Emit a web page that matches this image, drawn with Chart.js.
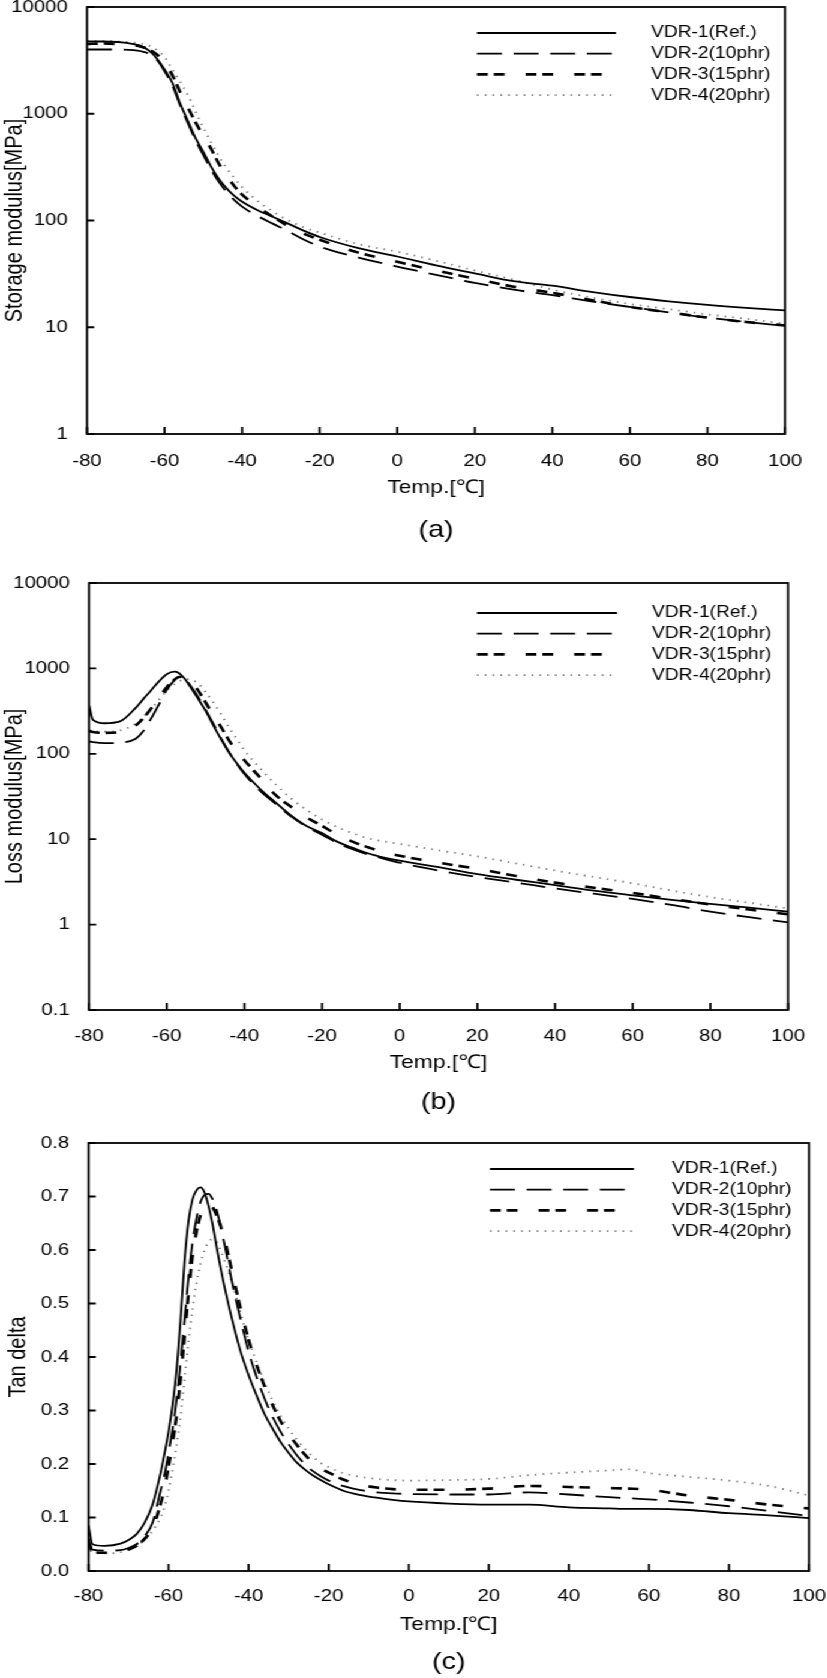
<!DOCTYPE html>
<html>
<head>
<meta charset="utf-8">
<script src="https://cdn.jsdelivr.net/npm/chart.js@4.4.1/dist/chart.umd.min.js"></script>
<style>
html,body{margin:0;padding:0;background:#fff;overflow:hidden;}
/* the reference figure is stretched horizontally, so the whole drawing is too */
#fig{position:relative;width:689px;height:1678px;transform:scaleX(1.2);transform-origin:0 0;}
#fig canvas{position:absolute;left:0;}
</style>
</head>
<body>
<div id="fig">
  <canvas id="cA" width="689" height="550" style="top:0px"></canvas>
  <canvas id="cB" width="689" height="568" style="top:550px"></canvas>
  <canvas id="cC" width="689" height="560" style="top:1118px"></canvas>
</div>
<script>
// ---- data ----
const labels = ['VDR-1(Ref.)','VDR-2(10phr)','VDR-3(15phr)','VDR-4(20phr)'];
const xTicks = [-80,-60,-40,-20,0,20,40,60,80,100];

// (a) storage modulus, MPa
const tempA = [-80,-76,-72,-68,-66,-64,-62,-60,-58,-56,-54,-52,-50,-48,-46,-44,-42,-40,-36,-32,-28,-24,-20,-10,0,10,20,30,40,50,60,70,80,90,100];
const storage1 = [4750,4750,4700,4500,4300,3900,3300,2600,1950,1250,860,590,440,320,245,200,170,150,125,108,93,80,70,55,46,38,32,27,24.5,21.5,19.2,17.5,16.2,15.2,14.4];
const storage2 = [4000,4000,4000,3950,3850,3650,3200,2500,1850,1200,820,560,410,300,230,185,155,135,110,93,79,66,57,45,37,31,26,22.5,20,17.5,15.5,13.8,12.3,11.2,10.3];
const storage3 = [4500,4550,4500,4400,4250,4000,3600,3000,2300,1600,1150,830,620,470,340,265,210,175,135,108,88,75,66,50,41,34,28.5,24,21,18,15.5,13.8,12.3,11.2,10.4];
const storage4 = [4800,4800,4750,4650,4550,4350,3950,3400,2600,2000,1500,1050,740,540,400,310,250,205,152,121,100,86,77,60,51,42,34,28,22.5,19,16.5,14.8,13.2,12,10.8];
const yTicksA = [1,10,100,1000,10000];

// (b) loss modulus, MPa
const tempB = [-80,-79,-76,-72,-68,-66,-64,-62,-60,-58,-57,-56,-55,-54,-52,-50,-48,-46,-44,-42,-40,-36,-32,-28,-24,-20,-16,-12,-8,-4,0,10,20,30,40,50,60,70,80,90,100];
const loss1 = [370,250,228,240,345,440,555,705,855,915,890,815,720,615,445,320,215,148,104,78,60,39,27,19,14.3,11.8,9.3,7.9,6.8,6.1,5.6,4.7,3.9,3.35,2.9,2.5,2.2,1.95,1.75,1.58,1.42];
const loss2 = [140,137,133,135,150,185,260,380,560,730,790,780,730,640,470,330,225,152,106,77,58,37,26,18.5,14,11.3,9,7.6,6.6,5.9,5.3,4.3,3.6,3.1,2.65,2.3,2.0,1.7,1.42,1.22,1.06];
const loss3 = [185,180,176,180,215,262,340,450,600,740,790,800,780,730,560,400,283,205,145,108,84,53,33,24,18,14.3,11.3,9.3,8.0,7.0,6.4,5.3,4.5,3.7,3.1,2.7,2.35,2.0,1.72,1.5,1.32];
const loss4 = [190,185,182,188,225,270,335,430,545,655,700,735,750,745,670,530,400,290,205,150,110,68,44,30,22,17,13.8,11.7,10.2,9.4,8.8,7.4,6.3,5.2,4.3,3.6,3.05,2.5,2.1,1.8,1.55];
const yTicksB = [0.1,1,10,100,1000,10000];

// (c) tan delta
const tempC = [-80,-79,-76,-72,-70,-68,-66,-64,-62,-61,-60,-59,-58,-57,-56,-55,-54,-53,-52,-51,-50,-49,-48,-47,-46,-44,-42,-40,-38,-36,-34,-32,-30,-28,-26,-24,-22,-20,-16,-12,-8,-4,0,10,20,30,40,50,55,60,70,80,90,100];
const tan1 = [0.085,0.05,0.047,0.051,0.058,0.069,0.09,0.124,0.183,0.22,0.26,0.31,0.376,0.47,0.58,0.655,0.695,0.712,0.717,0.707,0.682,0.648,0.606,0.566,0.53,0.466,0.41,0.366,0.328,0.293,0.266,0.241,0.221,0.203,0.19,0.179,0.17,0.162,0.149,0.142,0.137,0.133,0.13,0.126,0.124,0.124,0.119,0.117,0.116,0.116,0.114,0.108,0.104,0.099];
const tan2 = [0.06,0.04,0.038,0.039,0.043,0.05,0.065,0.09,0.15,0.18,0.22,0.265,0.32,0.39,0.47,0.55,0.615,0.66,0.69,0.703,0.705,0.695,0.675,0.645,0.61,0.535,0.47,0.41,0.362,0.322,0.288,0.26,0.237,0.217,0.2,0.187,0.177,0.169,0.158,0.151,0.147,0.145,0.144,0.143,0.143,0.147,0.143,0.138,0.136,0.134,0.128,0.121,0.112,0.103];
const tan3 = [0.055,0.036,0.034,0.036,0.04,0.047,0.06,0.08,0.125,0.155,0.195,0.24,0.29,0.36,0.44,0.52,0.59,0.635,0.665,0.68,0.685,0.68,0.665,0.645,0.62,0.555,0.49,0.432,0.385,0.345,0.31,0.28,0.256,0.236,0.218,0.203,0.192,0.184,0.17,0.161,0.156,0.153,0.152,0.152,0.154,0.159,0.157,0.155,0.154,0.152,0.141,0.133,0.124,0.117];
const tan4 = [0.05,0.034,0.033,0.035,0.04,0.047,0.058,0.075,0.1,0.12,0.15,0.19,0.235,0.29,0.36,0.43,0.49,0.54,0.575,0.6,0.615,0.62,0.615,0.6,0.58,0.535,0.482,0.432,0.39,0.352,0.318,0.29,0.266,0.246,0.229,0.214,0.202,0.194,0.182,0.176,0.172,0.17,0.169,0.17,0.172,0.179,0.184,0.188,0.19,0.183,0.176,0.169,0.159,0.141];
const yTicksC = [0,0.1,0.2,0.3,0.4,0.5,0.6,0.7,0.8];

// ---- styling ----
const FONT = "'Liberation Sans', Arial, sans-serif";
const LINES = [
  {color:'#000', width:1.8, dash:[]},
  {color:'#000', width:1.8, dash:[20.8,9.7]},
  {color:'#000', width:2.6, dash:[9,5,9,17.5]},
  {color:'#777', width:1.8, dash:[1.3,5.2]},
];
Chart.defaults.font.family = FONT;
Chart.defaults.color = '#000';

// box round the plot + inward tick marks
const framePlugin = {
  id:'frame',
  afterDraw(chart){
    const {ctx, chartArea:a, scales:{x,y}} = chart;
    ctx.save();
    ctx.strokeStyle='#000'; ctx.lineWidth=1.8; ctx.setLineDash([]);
    ctx.strokeRect(a.left, a.top, a.right-a.left, a.bottom-a.top);
    ctx.beginPath();
    x.ticks.forEach(t=>{ const px=x.getPixelForValue(t.value); ctx.moveTo(px,a.bottom); ctx.lineTo(px,a.bottom-7); });
    y.ticks.forEach(t=>{ const py=y.getPixelForValue(t.value); ctx.moveTo(a.left,py); ctx.lineTo(a.left+6,py); });
    ctx.stroke();
    ctx.restore();
  }
};

// legend drawn inside the plot, long line samples
const legendPlugin = {
  id:'lineLegend',
  afterDraw(chart, args, o){
    const {ctx, chartArea:a} = chart;
    ctx.save();
    ctx.font = `${o.size}px ${FONT}`;
    ctx.fillStyle='#000'; ctx.textBaseline='middle'; ctx.textAlign='left';
    chart.data.datasets.forEach((ds,i)=>{
      const y = a.top + o.top + i*o.row;
      const x0 = a.right - o.start;
      ctx.beginPath();
      ctx.setLineDash(ds.borderDash||[]);
      ctx.lineWidth = ds.borderWidth; ctx.strokeStyle = ds.borderColor;
      ctx.moveTo(x0,y); ctx.lineTo(x0+o.len,y); ctx.stroke();
      ctx.setLineDash([]);
      ctx.fillText(ds.label, a.right - o.text, y);
    });
    ctx.restore();
  }
};

function makePanel(id, p){
  const datasets = p.series.map((vals,i)=>({
    label: labels[i],
    data: p.temp.map((t,k)=>({x:t, y:vals[k]})),
    borderColor: LINES[i].color,
    borderWidth: LINES[i].width,
    borderDash: LINES[i].dash,
    pointRadius: 0,
    fill: false,
    cubicInterpolationMode: 'monotone',
  }));
  return new Chart(document.getElementById(id), {
    type:'line',
    data:{datasets},
    plugins:[framePlugin, legendPlugin],
    options:{
      responsive:false, animation:false, devicePixelRatio:1,
      layout:{padding:{top:p.padTop, right:p.padRight, left:0, bottom:0}},
      plugins:{
        legend:{display:false}, tooltip:{enabled:false}, title:{display:false},
        subtitle:{display:true, text:p.sub, position:'bottom', fullSize:false, color:'#000',
          font:{size:24, weight:'normal', lineHeight:1.2}, padding:{top:p.subTop, bottom:p.subBottom}},
        lineLegend:Object.assign({size:16, row:20.7}, p.legend),
      },
      scales:{
        x:{type:'linear', min:-80, max:100,
          grid:{display:false}, border:{display:false},
          afterBuildTicks:s=>{ s.ticks = xTicks.map(v=>({value:v})); },
          afterFit:s=>{ s.height = p.xH; s.paddingLeft = 0; s.paddingRight = 0; },
          ticks:{font:{size:17}, padding:p.xPad, maxRotation:0, autoSkip:false, callback:v=>String(v)},
          title:{display:true, text:'Temp.[℃]', font:{size:19, lineHeight:1.2}, padding:{top:0,bottom:0}}},
        y:{type:p.yType, min:p.yMin, max:p.yMax,
          grid:{display:false}, border:{display:false},
          afterBuildTicks:s=>{ s.ticks = p.yTicks.map(v=>({value:v})); },
          afterFit:s=>{ s.width = p.left; s.paddingTop = 0; s.paddingBottom = 0; },
          ticks:{font:{size:17}, padding:8, autoSkip:false, callback:p.fmt},
          title:{display:true, text:p.yTitle, font:{size:20, lineHeight:1.2}, padding:{top:p.yTitlePad, bottom:0}}},
      }
    }
  });
}

makePanel('cA', {
  temp:tempA, series:[storage1,storage2,storage3,storage4],
  yType:'logarithmic', yMin:1, yMax:10000, yTicks:yTicksA, fmt:v=>String(v),
  yTitle:'Storage modulus[MPa]', yTitlePad:0,
  left:72.5, padRight:34.8, padTop:7, xPad:9, xH:65,
  sub:'(a)', subTop:17, subBottom:5.2,
  legend:{top:26, start:256.7, len:115.8, text:111.7},
});
makePanel('cB', {
  temp:tempB, series:[loss1,loss2,loss3,loss4],
  yType:'logarithmic', yMin:0.1, yMax:10000, yTicks:yTicksB, fmt:v=>String(v),
  yTitle:'Loss modulus[MPa]', yTitlePad:0,
  left:74.2, padRight:32.3, padTop:33, xPad:8, xH:64,
  sub:'(b)', subTop:13.6, subBottom:1.6,
  legend:{top:30, start:259.2, len:116.7, text:113.4},
});
makePanel('cC', {
  temp:tempC, series:[tan1,tan2,tan3,tan4],
  yType:'linear', yMin:0, yMax:0.8, yTicks:yTicksC, fmt:v=>Number(v).toFixed(1),
  yTitle:'Tan delta', yTitlePad:3,
  left:73.75, padRight:14.8, padTop:25, xPad:7, xH:65,
  sub:'(c)', subTop:11.6, subBottom:1.6,
  legend:{top:26, start:265.9, len:120, text:114.2},
});
</script>
</body>
</html>
